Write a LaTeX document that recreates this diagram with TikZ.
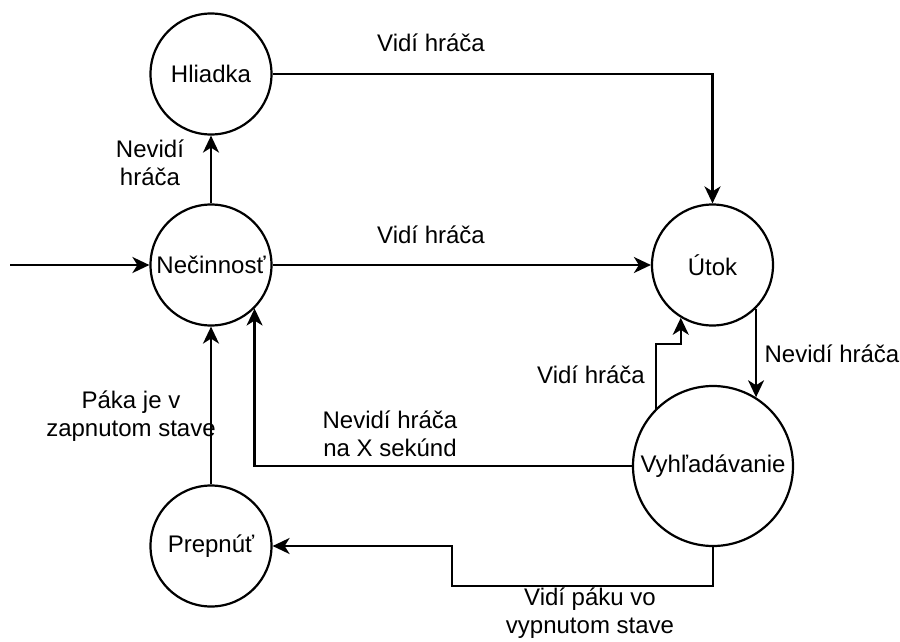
\documentclass[tikz,border=0pt]{standalone}
\usepackage{fontspec}
\setmainfont{Liberation Sans}
\usetikzlibrary{arrows.meta}
\begin{document}
\begin{tikzpicture}[x=1pt,y=-1pt,
  every node/.style={font=\fontsize{24}{27.5}\selectfont},
  state/.style={draw, circle, line width=2.2pt, inner sep=0pt, minimum size=121pt},
  bigstate/.style={state, minimum size=160pt},
  edge/.style={line width=2.2pt, -{Stealth[length=17pt,width=16pt,inset=5pt]}},
  lbl/.style={inner sep=0pt, align=center, anchor=base}]
\useasboundingbox (0,0) rectangle (900,642);

% states
\node[state] (patrol) at (211,74) {Hliadka};
\node[state] (idle) at (211,265) {Nečinnosť};
\node[state] (attack) at (712.5,265) {Útok};
\node[bigstate] (search) at (713,466) {Vyhľadávanie};
\node[state] (toggle) at (211,546) {Prepnúť};

% initial transition
\coordinate (init) at (10,265);
\draw[edge] (init) -- (idle.west);

% transitions
\draw[edge] (idle.north) -- (patrol.south);
\draw[edge] (patrol.east) -| (attack.north);
\draw[edge] (idle.east) -- (attack.west);
\draw[edge] (attack.-45) -- (attack.-45 |- search.58);
\draw[edge] (search.135) -- (search.135 |- 0,344) -| (attack.-121);
\draw[edge] (search.west) -| (idle.-45);
\draw[edge] (search.south) |- (452,586) |- (toggle.east);
\draw[edge] (toggle.north) -- (idle.south);

% transition labels (base = baseline of the last line)
\node[lbl] (l1) at (431,52) {Vidí hráča};
\node[lbl] (l2) at (431,243) {Vidí hráča};
\node[lbl] (l3) at (150,185) {Nevidí\\hráča};
\node[lbl] (l4) at (131,436) {Páka je v\\zapnutom stave};
\node[lbl] (l5) at (390,456) {Nevidí hráča\\na X sekúnd};
\node[lbl] (l6) at (832,362) {Nevidí hráča};
\node[lbl] (l7) at (591,383) {Vidí hráča};
\node[lbl] (l8) at (590,633) {Vidí páku vo\\vypnutom stave};
\end{tikzpicture}
\end{document}
